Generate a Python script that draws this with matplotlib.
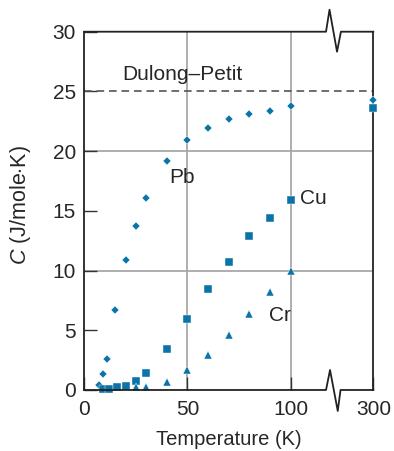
import numpy as np
import matplotlib
matplotlib.use("Agg")
import matplotlib.pyplot as plt

# ---- data ----
pb_T = [7, 9, 11, 15, 20, 25, 30, 40, 50, 60, 70, 80, 90, 100, 300]
pb_C = [0.4, 1.3, 2.6, 6.7, 10.9, 13.7, 16.1, 19.2, 20.9, 21.9, 22.7, 23.1, 23.4, 23.8, 24.3]

cu_T = [9, 12, 16, 20, 25, 30, 40, 50, 60, 70, 80, 90, 100, 300]
cu_C = [0.12, 0.12, 0.25, 0.33, 0.78, 1.45, 3.46, 5.95, 8.45, 10.7, 12.9, 14.4, 15.9, 23.6]

cr_T = [25, 30, 40, 50, 60, 70, 80, 90, 100]
cr_C = [0.25, 0.25, 0.67, 1.65, 2.96, 4.6, 6.4, 8.2, 9.95]

x_ticks = [0, 50, 100, 300]
y_ticks = [0, 5, 10, 15, 20, 25, 30]
x_grid = [50, 100]
y_grid = [10, 20]
dulong_petit = 25

BLUE = "#0a73a8"
TXT = "#262626"
plt.rcParams["font.family"] = ["Liberation Sans", "DejaVu Sans"]
plt.rcParams["mathtext.fontset"] = "custom"
plt.rcParams["mathtext.it"] = "Liberation Sans:italic"
plt.rcParams["mathtext.rm"] = "Liberation Sans"
plt.rcParams["lines.scale_dashes"] = False

# broken axis: linear up to 120 K, then 120..300 compressed into 20 units
def fwd(x):
    x = np.asarray(x, dtype=float)
    return np.where(x <= 120, x, 120 + (x - 120) * (20.0 / 180.0))

def inv(x):
    x = np.asarray(x, dtype=float)
    return np.where(x <= 120, x, 120 + (x - 120) * (180.0 / 20.0))

fig = plt.figure(figsize=(3.94, 4.51), dpi=100)
ax = fig.add_axes([0.2137, 0.1353, 0.7338, 0.7944])
ax.set_xscale("function", functions=(fwd, inv))
ax.set_xlim(0, 300)
ax.set_ylim(0, 30)

for g in x_grid:
    ax.axvline(g, color="#a8a8a8", lw=1.3, zorder=1)
for g in y_grid:
    ax.axhline(g, color="#a8a8a8", lw=1.3, zorder=1)

ax.plot([0, 300], [dulong_petit, dulong_petit], color="#555555", lw=1.2,
        dashes=(5.5, 3.5), zorder=2, clip_on=False)

ax.plot(pb_T, pb_C, ls="none", marker="D", ms=4.2, color=BLUE, mec="white", mew=0.3, zorder=4, clip_on=False)
ax.plot(cu_T, cu_C, ls="none", marker="s", ms=5.6, color=BLUE, mec="white", mew=0.3, zorder=4, clip_on=False)
ax.plot(cr_T, cr_C, ls="none", marker="^", ms=5.8, color=BLUE, mec="white", mew=0.3, zorder=4, clip_on=False)

fs = 15
ax.text(18.3, 26.4, "Dulong\u2013Petit", fontsize=fs, color=TXT, va="center", ha="left")
ax.text(41.0, 17.8, "Pb", fontsize=fs, color=TXT, va="center", ha="left")
ax.text(104.5, 16.0, "Cu", fontsize=fs, color=TXT, va="center", ha="left")
ax.text(89.4, 6.25, "Cr", fontsize=fs, color=TXT, va="center", ha="left")

ax.set_xticks(x_ticks)
ax.set_xticklabels([str(t) for t in x_ticks])
ax.set_yticks(y_ticks)
ax.set_yticklabels([str(t) for t in y_ticks])
ax.tick_params(direction="in", length=9.5, width=1.0, color="#333333",
               labelsize=15, labelcolor=TXT, pad=6)
ax.tick_params(axis="x", pad=7)

ax.set_xlabel("Temperature (K)", fontsize=14.5, color=TXT, labelpad=8)
ax.set_ylabel(r"$C$ (J/mole$\cdot$K)", fontsize=15.5, color=TXT)
ax.yaxis.set_label_coords(-0.176, 0.517)

# spines: draw top/bottom with break zigzags
for s in ["top", "bottom"]:
    ax.spines[s].set_visible(False)
for s in ["left", "right"]:
    ax.spines[s].set_linewidth(1.3)
    ax.spines[s].set_color("#222222")

top_x = [0, 0.8364, 0.8485, 0.8745, 0.888, 1]
top_y = [1, 1, 1.0614, 0.9442, 1, 1]
bot_x = [0, 0.8364, 0.8503, 0.877, 0.8866, 1]
bot_y = [0, 0, 0.0558, -0.0586, 0, 0]
ax.plot(top_x, top_y, transform=ax.transAxes, color="#222222", lw=1.3, clip_on=False, zorder=5)
ax.plot(bot_x, bot_y, transform=ax.transAxes, color="#222222", lw=1.3, clip_on=False, zorder=5)

fig.savefig("out.png", dpi=100)
